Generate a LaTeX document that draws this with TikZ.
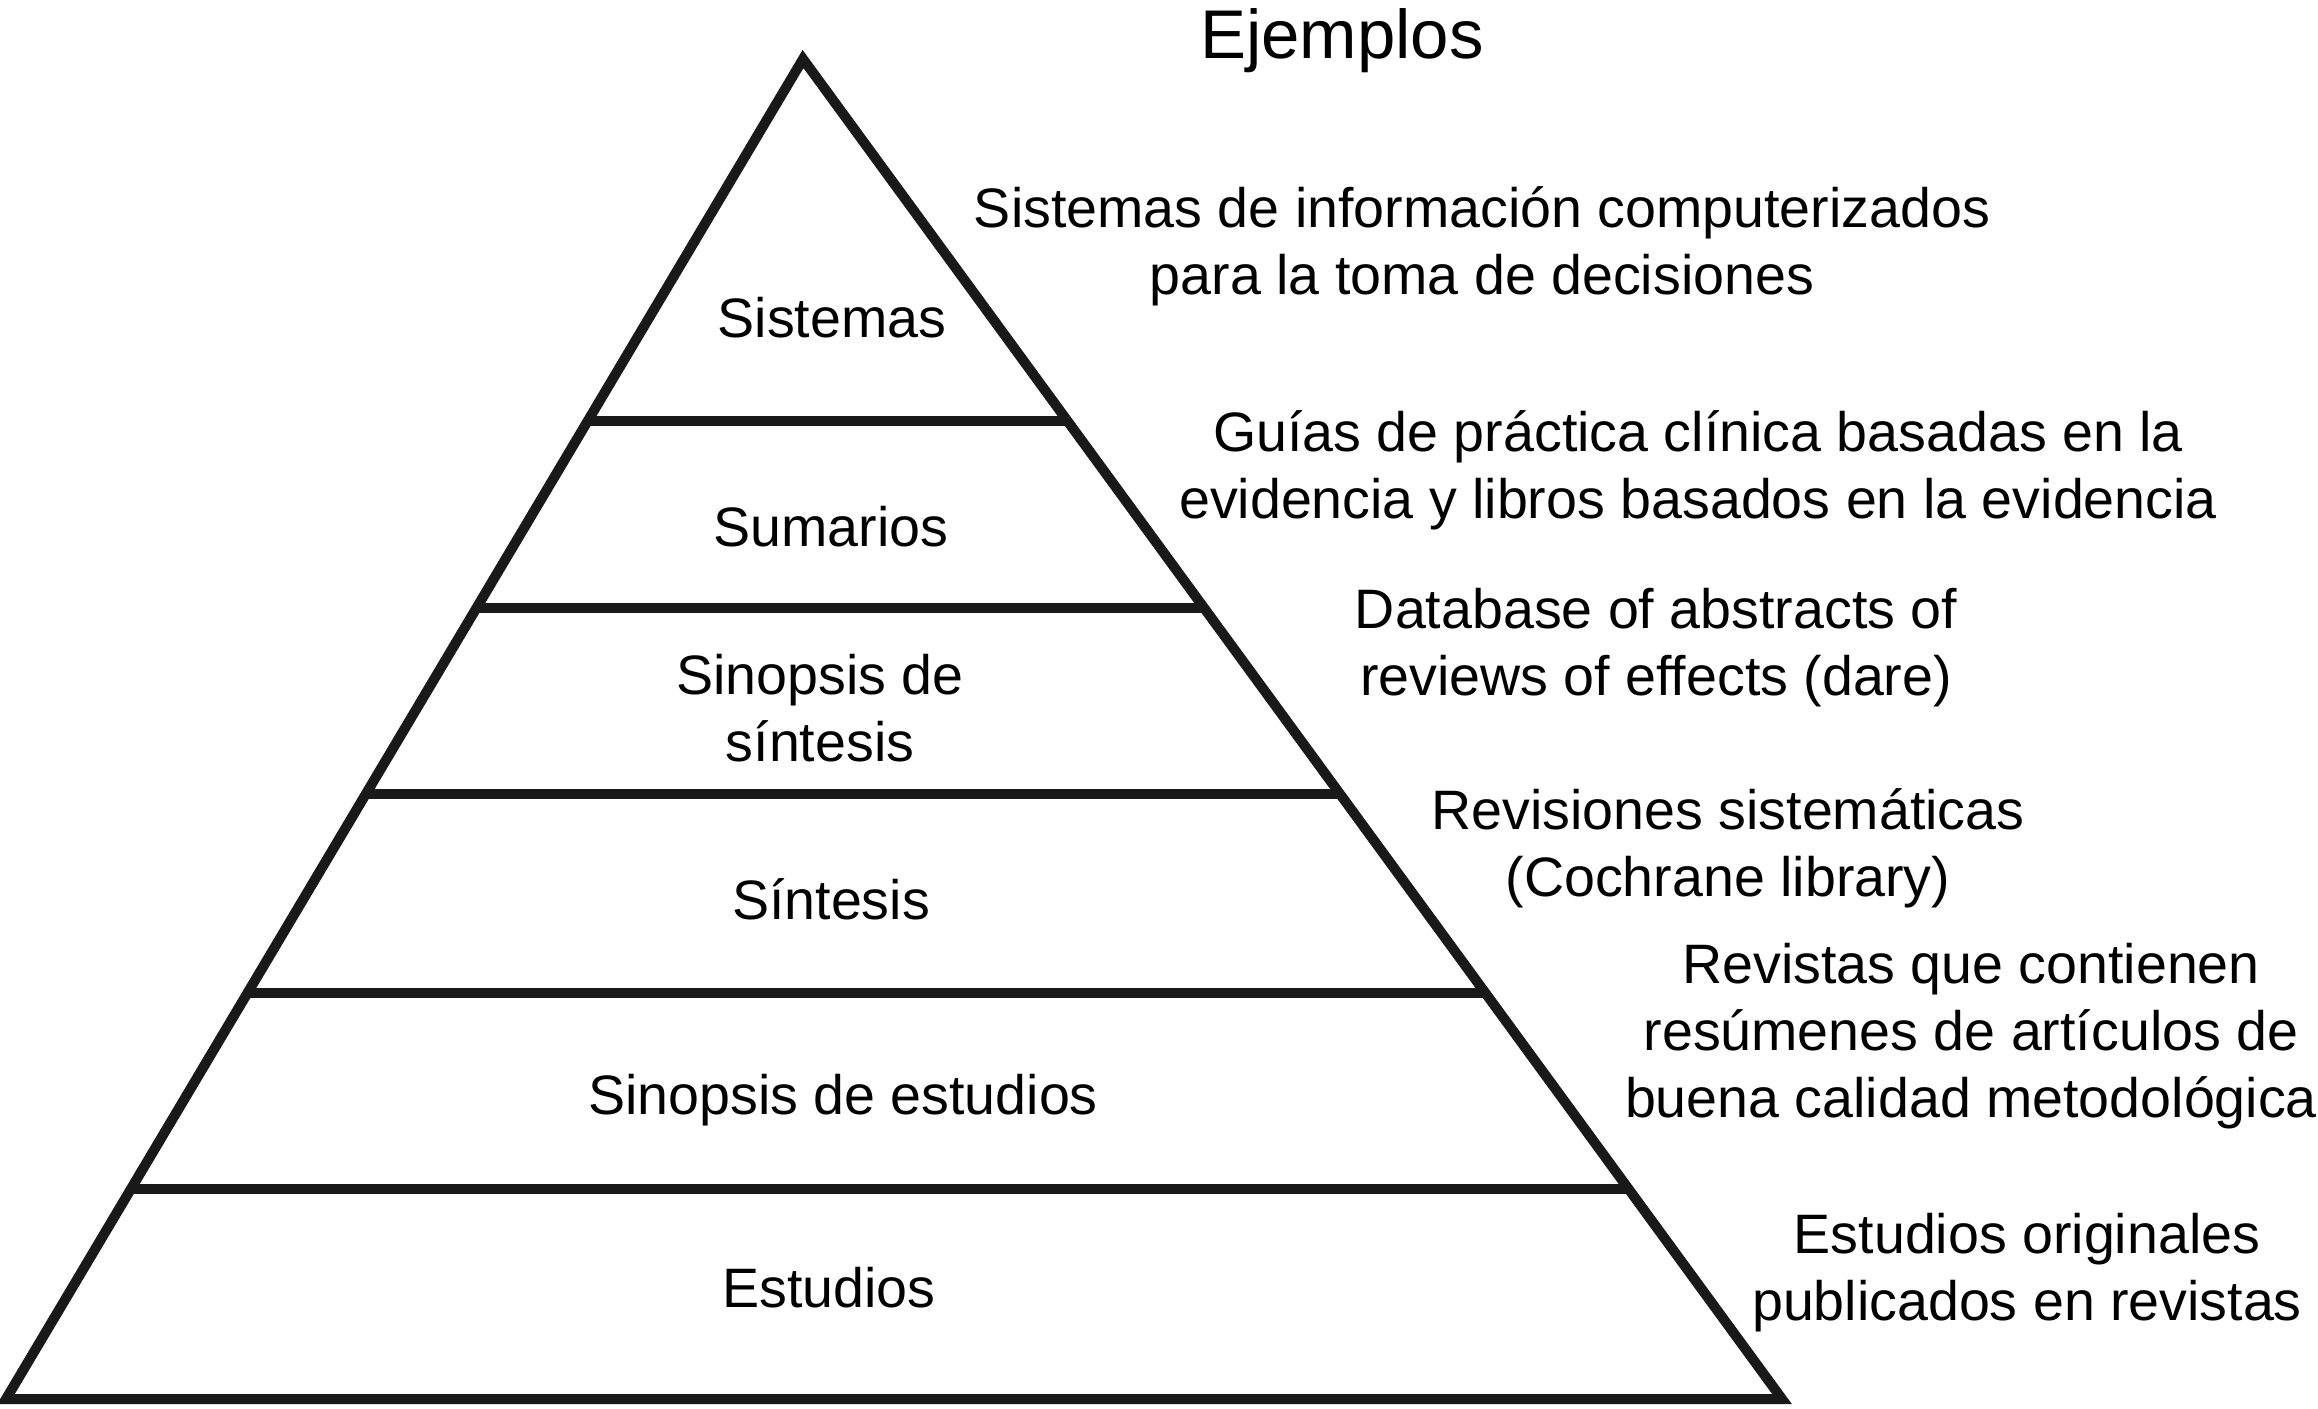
\documentclass[tikz,border=0pt]{standalone}
\usepackage{fontspec}
\setmainfont{Liberation Sans}
\usetikzlibrary{calc}
\begin{document}
\begin{tikzpicture}[x=0.01cm,y=-0.01cm,
  edge/.style={line width=2.85pt,black!90},
  lvl/.style={font=\fontsize{15.8}{19}\selectfont,align=center,inner sep=0pt},
  ex/.style={font=\fontsize{15.8}{19}\selectfont,align=center,inner sep=0pt},
  ttl/.style={font=\fontsize{19.6}{23}\selectfont,inner sep=0pt}]
\useasboundingbox (0,0) rectangle (2318,1408);
\coordinate (A) at (803,59);
\coordinate (L) at (6,1399);
\coordinate (R) at (1782,1399);
\draw[edge,line join=miter,miter limit=20] (A) -- (L) -- (R) -- cycle;
\foreach \yy/\nm in {421/a,608/b,794/c,993/d,1189/e}{
  \pgfmathsetmacro{\t}{(\yy-59)/1340}
  \coordinate (l\nm) at ($(A)!\t!(L)$);
  \coordinate (r\nm) at ($(A)!\t!(R)$);
  \draw[edge] (l\nm) -- (r\nm);
}
\node[ttl] (title) at (1342,41) {Ejemplos};
\node[lvl] (n1) at (832,318) {Sistemas};
\node[lvl] (n2) at (831,527) {Sumarios};
\node[lvl] (n3) at (820,708) {Sinopsis de\\síntesis};
\node[lvl] (n4) at (831,899) {Síntesis};
\node[lvl] (n5) at (843,1100) {Sinopsis de estudios};
\node[lvl] (n6) at (829,1288) {Estudios};
\node[ex] (e1) at (1482,246) {Sistemas de información computerizados\\para la toma de decisiones};
\node[ex] (e2) at (1698,470) {Guías de práctica clínica basadas en la\\evidencia y libros basados en la evidencia};
\node[ex] (e3) at (1656,648) {Database of abstracts of\\reviews of effects (dare)};
\node[ex] (e4) at (1728,848) {Revisiones sistemáticas\\(Cochrane library)};
\node[ex] (e5) at (1971,1036) {Revistas que contienen\\resúmenes de artículos de\\buena calidad metodológica};
\node[ex] (e6) at (2027,1273) {Estudios originales\\publicados en revistas};
\end{tikzpicture}
\end{document}
